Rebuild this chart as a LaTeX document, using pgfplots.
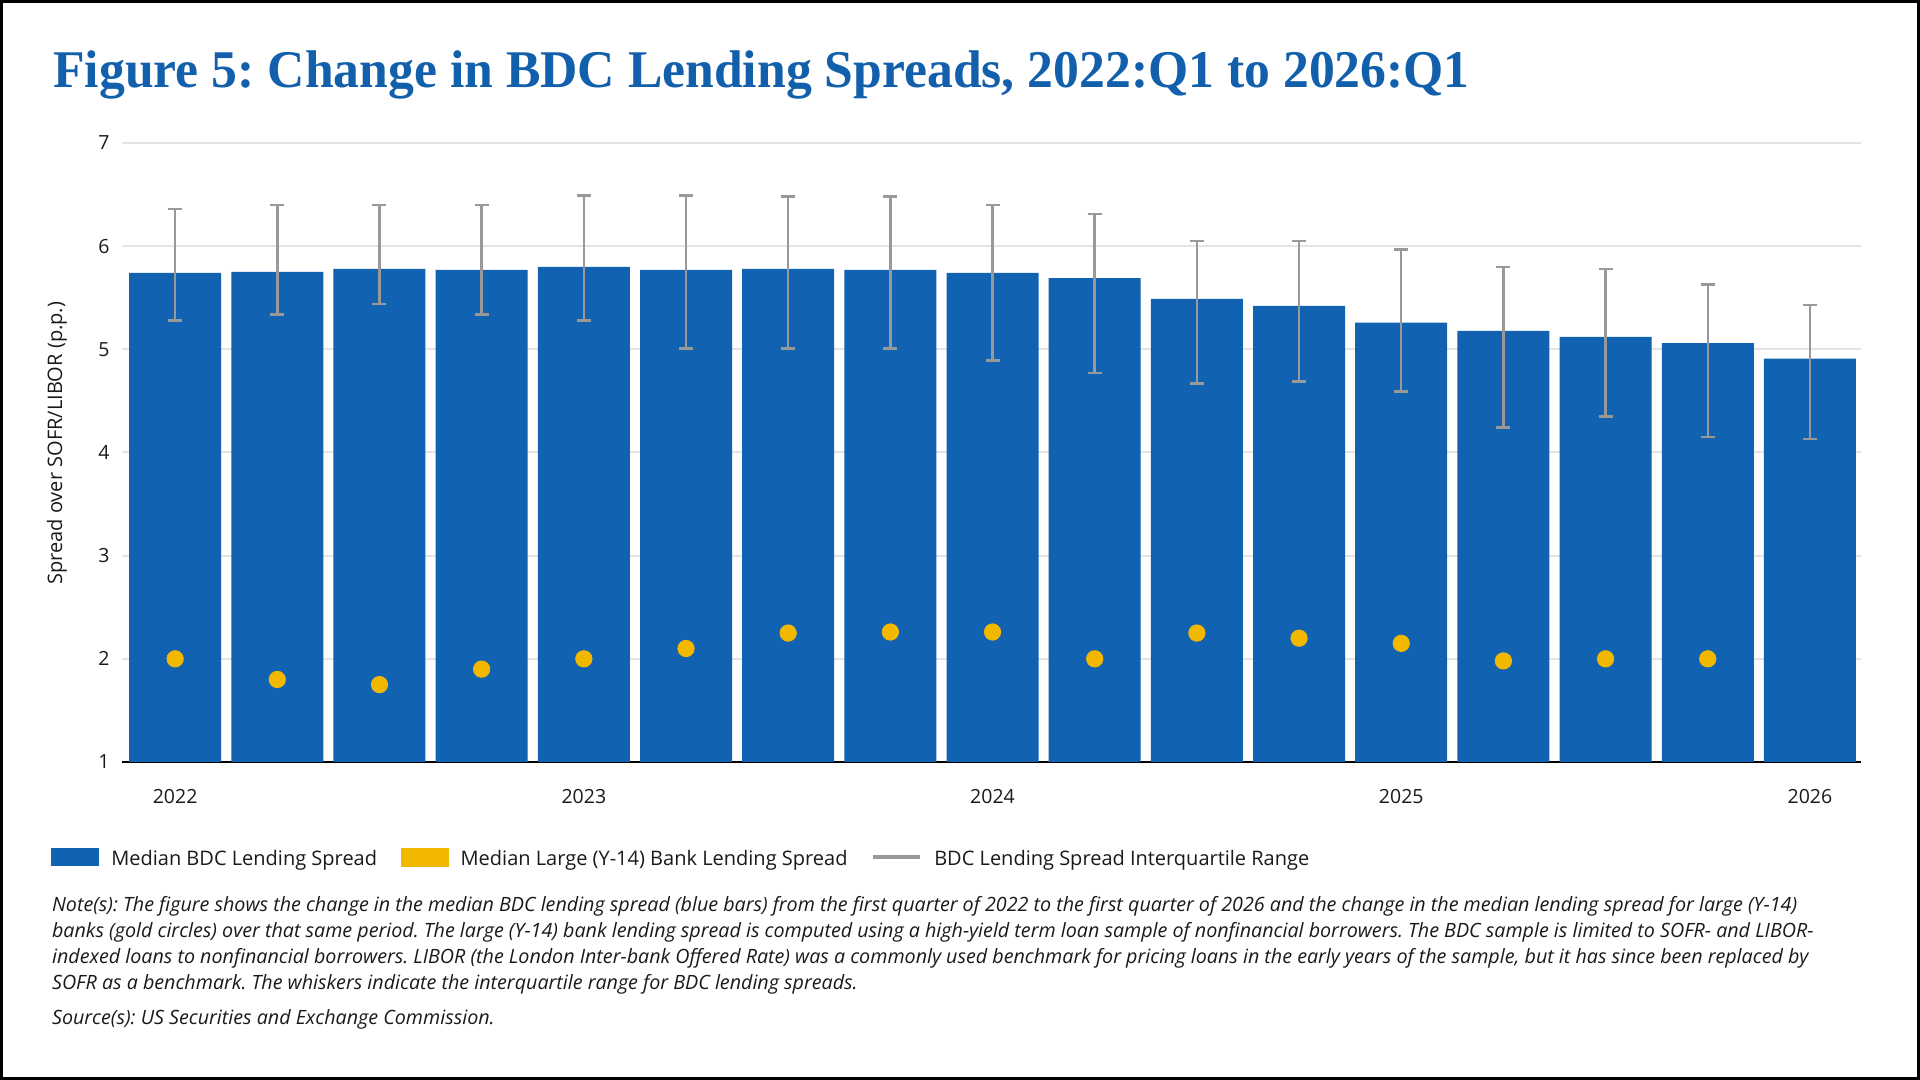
\documentclass[border=0pt]{standalone}
\usepackage{pgfplots}
\pgfplotsset{compat=1.18}
\usepackage{pgfplotstable}
\usepackage{fontspec}
\setmainfont{Open Sans}
\newfontfamily\titlefont[FakeStretch=0.975]{Liberation Serif}
\frenchspacing

\definecolor{barblue}{RGB}{17,98,176}
\definecolor{gold}{RGB}{242,184,0}
\definecolor{whisk}{RGB}{153,153,153}
\definecolor{gridc}{RGB}{228,228,228}
\definecolor{titleblue}{RGB}{18,95,172}
\definecolor{txt}{RGB}{26,26,26}

\pgfplotstableread{
x med lo hi
0 5.74 5.28 6.36
1 5.75 5.34 6.40
2 5.78 5.44 6.40
3 5.77 5.34 6.40
4 5.80 5.28 6.49
5 5.77 5.01 6.49
6 5.78 5.01 6.48
7 5.77 5.01 6.48
8 5.74 4.89 6.40
9 5.69 4.77 6.31
10 5.49 4.67 6.05
11 5.42 4.69 6.05
12 5.26 4.59 5.97
13 5.18 4.24 5.80
14 5.12 4.35 5.78
15 5.06 4.15 5.63
16 4.91 4.13 5.43
}\bdc

\pgfplotstableread{
x bank
0 2.00
1 1.80
2 1.75
3 1.90
4 2.00
5 2.10
6 2.25
7 2.26
8 2.26
9 2.00
10 2.25
11 2.20
12 2.15
13 1.98
14 2.00
15 2.00
}\bank

\begin{document}
\begin{tikzpicture}
\useasboundingbox (0pt,0pt) rectangle (960pt,540pt);
\fill[white] (0pt,0pt) rectangle (960pt,540pt);
\draw[black, line width=1.5pt] (0.75pt,0.75pt) rectangle (959.25pt,539.25pt);

\node[anchor=base west, inner sep=0pt, text=titleblue,
      font=\titlefont\bfseries\fontsize{26.5pt}{30pt}\selectfont]
  at (26.5pt,496pt) {Figure 5: Change in BDC Lending Spreads, 2022:Q1 to 2026:Q1};

\begin{axis}[
  at={(61pt,159pt)}, anchor=south west,
  scale only axis, width=869.5pt, height=309.5pt,
  xmin=-0.52, xmax=16.5, ymin=1, ymax=7,
  enlargelimits=false,
  axis x line*=bottom, axis y line*=left,
  x axis line style={-, line width=1pt, color=black},
  y axis line style={draw=none},
  major tick length=0pt,
  xtick={0,4,8,12,16}, xticklabels={2022,2023,2024,2025,2026},
  ytick={1,2,3,4,5,6,7},
  ymajorgrids, grid style={gridc, line width=1pt},
  /pgf/number format/assume math mode=true,
  tick label style={font=\fontsize{9.75pt}{11pt}\selectfont, text=txt, inner sep=0pt},
  yticklabel style={anchor=east, xshift=-6pt},
  xticklabel style={anchor=north, yshift=-13.65pt},
  ylabel={Spread over SOFR/LIBOR (p.p.)},
  ylabel style={at={(axis description cs:-0.0374,0.515)}, anchor=center,
                font=\fontsize{10pt}{12pt}\selectfont, text=txt, inner sep=0pt},
  legend columns=3,
  legend style={at={(-0.041,-0.155)}, anchor=west, draw=none, fill=none,
                inner sep=0pt, font=\fontsize{10pt}{12pt}\selectfont, text=txt,
                cells={anchor=west},
                nodes={inner sep=0pt},
                /tikz/every odd column/.append style={column sep=6.1pt},
                /tikz/every even column/.append style={column sep=11.8pt}},
]
\addplot[ybar, bar width=46pt, bar shift=0pt, fill=barblue, draw=none,
  legend image code/.code={\fill[barblue] (0pt,-3.5pt) rectangle (24pt,5.5pt);}]
  table[x=x, y=med] {\bdc};
\addlegendentry{Median BDC Lending Spread}

\addplot[only marks, mark=*, mark size=4.1pt, color=gold, fill=gold,
  legend image code/.code={\fill[gold] (0pt,-3.5pt) rectangle (23.5pt,5.5pt);}]
  table[x=x, y=bank] {\bank};
\addlegendentry{Median Large (Y-14) Bank Lending Spread}

\addplot[draw=none, no markers,
  legend image code/.code={\draw[whisk, line width=2pt] (0pt,1pt) -- (23.5pt,1pt);},
  error bars/.cd, y dir=both, y explicit,
  error bar style={draw=whisk, solid, line width=1.25pt},
  error mark options={rotate=90, draw=whisk, solid, line width=1.25pt, mark size=3.5pt}]
  table[x=x, y=med,
        y error plus expr=\thisrow{hi}-\thisrow{med},
        y error minus expr=\thisrow{med}-\thisrow{lo}] {\bdc};
\addlegendentry{BDC Lending Spread Interquartile Range}
\end{axis}

\begin{scope}[every node/.style={anchor=base west, inner sep=0pt, text=txt,
      font=\itshape\fontsize{9.85pt}{12pt}\selectfont}]
\node at (25.85pt,84.15pt) {Note(s): The figure shows the change in the median BDC lending spread (blue bars) from the first quarter of 2022 to the first quarter of 2026 and the change in the median lending spread for large (Y-14)};
\node at (25.85pt,71.15pt) {banks (gold circles) over that same period. The large (Y-14) bank lending spread is computed using a high-yield term loan sample of nonfinancial borrowers. The BDC sample is limited to SOFR- and LIBOR-};
\node at (25.85pt,58.15pt) {indexed loans to nonfinancial borrowers. LIBOR (the London Inter-bank Offered Rate) was a commonly used benchmark for pricing loans in the early years of the sample, but it has since been replaced by};
\node at (25.85pt,45.35pt) {SOFR as a benchmark. The whiskers indicate the interquartile range for BDC lending spreads.};
\node at (25.85pt,27.5pt) {Source(s): US Securities and Exchange Commission.};
\end{scope}
\end{tikzpicture}
\end{document}
